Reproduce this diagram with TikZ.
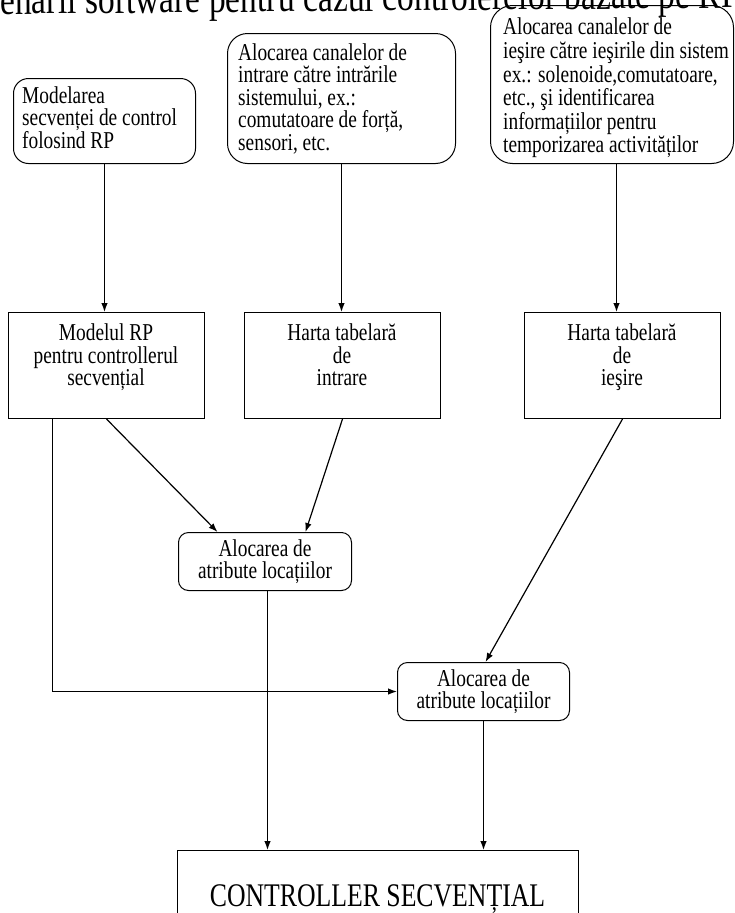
\documentclass[tikz,border=0pt]{standalone}
\usepackage{fontspec}
% Times-like serif, slightly condensed so the glyphs stand taller than wide
\setmainfont{Liberation Serif}[FakeStretch=0.8]
\newfontfamily\titlefont{Liberation Serif}[FakeStretch=0.8]
\newfontfamily\bigfont{Liberation Serif}[FakeStretch=0.78]
\usetikzlibrary{arrows.meta}
\begin{document}
\begin{tikzpicture}[x=1pt,y=-1pt,
  every node/.style={font=\fontsize{24.2pt}{22.5pt}\selectfont},
  boxbase/.style={draw, line width=1pt, inner sep=0pt, anchor=north west},
  rbox/.style={boxbase, rounded corners=#1},
  rbox/.default=15pt,
  sbox/.style={boxbase},
  ltext/.style={inner sep=0pt, align=left, anchor=north west},
  ctext/.style={inner sep=0pt, align=center, anchor=north},
  arr/.style={line width=1.2pt, -{Latex[length=9pt,width=6.5pt]}}
]
\useasboundingbox (0,0) rectangle (734,913);
\clip (0,0) rectangle (734,913);

% heading, slightly askew and cut off by the upper edge
\node[inner sep=0pt, anchor=base west, rotate=0.5,
      font=\titlefont\fontsize{42pt}{42pt}\selectfont]
  (title) at (-33.6,14.5) {Scenarii software pentru cazul controlerelor bazate pe RP};

% first row: rounded boxes with left-aligned text
\node[rbox=15pt, minimum width=182pt, minimum height=85pt] (A) at (13,78) {};
\node[ltext] (At) at (22,86.5) {Modelarea\\secvenței de control\\folosind RP};

\node[rbox=20pt, minimum width=228pt, minimum height=130pt] (B) at (227,33) {};
\node[ltext] (Bt) at (238,43.5) {Alocarea canalelor de\\intrare către intrările\\sistemului, ex.:\\comutatoare de forță,\\sensori, etc.};

\node[rbox=22pt, minimum width=243pt, minimum height=158pt] (C) at (490,5) {};
\node[ltext, font=\fontsize{24.2pt}{23.6pt}\selectfont] (Ct) at (503,18) {Alocarea canalelor de\\ieşire către ieşirile din sistem\\ex.: solenoide,comutatoare,\\etc., şi identificarea\\informațiilor pentru\\temporizarea activităților};

% second row: plain rectangles, text at the top
\node[sbox, minimum width=196pt, minimum height=106pt] (D) at (8,312) {};
\node[ctext] (Dt) at (106,324) {Modelul RP\\pentru controllerul\\secvențial};

\node[sbox, minimum width=196pt, minimum height=106pt] (E) at (244,312) {};
\node[ctext] (Et) at (342,324) {Harta tabelară\\de\\intrare};

\node[sbox, minimum width=196pt, minimum height=106pt] (F) at (524,312) {};
\node[ctext] (Ft) at (622,324) {Harta tabelară\\de\\ieşire};

% attribute allocation stages
\node[rbox=10pt, minimum width=173pt, minimum height=58pt, align=center] (G) at (178,532)
  {Alocarea de\\atribute locațiilor};
\node[rbox=10pt, minimum width=172pt, minimum height=58pt, align=center] (H) at (397,662)
  {Alocarea de\\atribute locațiilor};

% final controller block
\node[sbox, minimum width=401pt, minimum height=120pt] (I) at (177,850) {};
\node[inner sep=0pt, anchor=base, font=\bigfont\fontsize{33pt}{33pt}\selectfont]
  (It) at (377.5,906) {CONTROLLER SECVENȚIAL};

% connectors
\coordinate (cdown) at ([xshift=4.5pt]C.south);
\coordinate (dleft) at ([xshift=-54pt]D.south);
\coordinate (gdown) at ([xshift=2.5pt]G.south);
\draw[arr] (A.south) -- (A.south |- D.north);
\draw[arr] (B.south) -- (B.south |- E.north);
\draw[arr] (cdown) -- (cdown |- F.north);
\draw[arr] (D.south) -- ([xshift=-47.5pt]G.north);
\draw[arr] (E.south) -- ([xshift=40.5pt]G.north);
\draw[arr] (F.south) -- ([xshift=2pt]H.north);
\draw[arr] (dleft) |- (H.west);
\draw[arr] (gdown) -- (gdown |- I.north);
\draw[arr] (H.south) -- (H.south |- I.north);
\end{tikzpicture}
\end{document}
